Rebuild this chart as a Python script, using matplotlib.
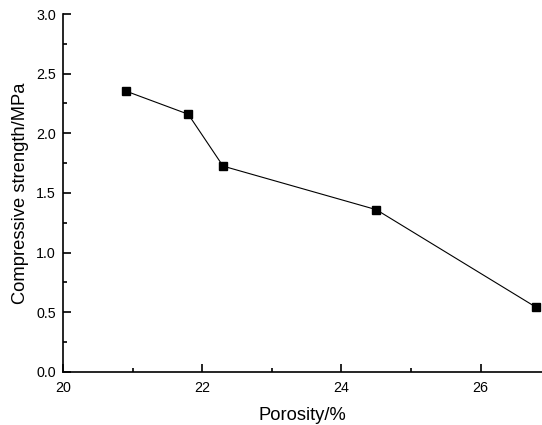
import matplotlib.pyplot as plt
from matplotlib.ticker import MultipleLocator

plt.rcParams['font.family'] = ['Liberation Sans', 'DejaVu Sans']

# === Datos ===
porosity = [20.9, 21.8, 22.3, 24.5, 26.8]
strength = [2.355, 2.16, 1.725, 1.36, 0.54]

fig = plt.figure(figsize=(5.42, 4.25), dpi=100)
ax = fig.add_axes([0.116, 0.125, 0.884, 0.842])

ax.plot(porosity, strength, '-', color='black', lw=0.8,
        marker='s', ms=5.5, mfc='black', mec='black')

ax.set_xlim(20, 26.88)
ax.set_ylim(0, 3.0)
ax.xaxis.set_major_locator(MultipleLocator(2))
ax.xaxis.set_minor_locator(MultipleLocator(1))
ax.yaxis.set_major_locator(MultipleLocator(0.5))
ax.yaxis.set_minor_locator(MultipleLocator(0.25))
ax.yaxis.set_major_formatter(plt.FormatStrFormatter('%.1f'))

ax.spines['top'].set_visible(False)
ax.spines['right'].set_visible(False)
for s in ['left', 'bottom']:
    ax.spines[s].set_linewidth(1.2)

ax.tick_params(which='major', direction='in', length=6, width=1.2, labelsize=10.3)
ax.tick_params(which='minor', direction='in', length=3, width=1.2)
ax.tick_params(axis='x', which='major', pad=6.5)
ax.tick_params(axis='y', which='major', pad=5)

ax.set_xlabel("Porosity/%", fontsize=13.2, labelpad=9)
ax.set_ylabel("Compressive strength/MPa", fontsize=13.2, labelpad=5.5)

fig.savefig("out.png", dpi=100)
